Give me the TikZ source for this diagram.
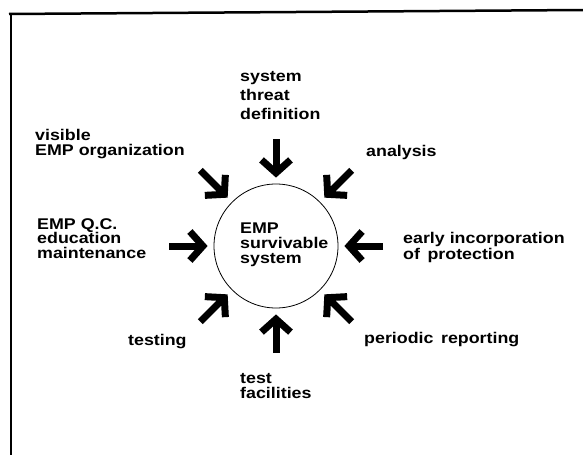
\documentclass[tikz,border=0pt]{standalone}
\usepackage{fontspec}
\newfontfamily\lblfont{Liberation Sans}[FakeStretch=1.15]
\usetikzlibrary{arrows.meta,calc}
\begin{document}
\begin{tikzpicture}[x=1pt,y=-1pt,
  lbl/.style={anchor=base west, inner sep=0pt, font=\lblfont\bfseries\fontsize{15.5}{15.5}\selectfont},
  bigarrow/.style={line width=7pt, -{Straight Barb[length=13pt,width=29pt]}, shorten >=6pt},
  framestroke/.style={line width=2.5pt}]
\useasboundingbox (0,0) rectangle (583,455);
% frame
\draw[framestroke] (9,14) -- (583,10);
\draw[framestroke] (11,13) -- (11,455);
% centre circle
\node[circle, draw, line width=0.8pt, minimum size=124pt, inner sep=0pt] (c) at (276,246) {};
\node[lbl] (in1) at (240,233) {EMP};
\node[lbl] (in2) at (240,248) {survivable};
\node[lbl] (in3) at (240,263) {system};
% arrow tails
\coordinate (tN)  at ($(c)+(270:107)$);
\coordinate (tNE) at ($(c)+(315:107)$);
\coordinate (tE)  at ($(c)+(0:107)$);
\coordinate (tSE) at ($(c)+(45:107)$);
\coordinate (tS)  at ($(c)+(90:107)$);
\coordinate (tSW) at ($(c)+(135:107)$);
\coordinate (tW)  at ($(c)+(180:107)$);
\coordinate (tNW) at ($(c)+(225:107)$);
\foreach \t in {tN,tNE,tE,tSE,tS,tSW,tW,tNW}
  \draw[bigarrow] (\t) -- (c);
% labels
\node[lbl] (sys1) at (240,81) {system};
\node[lbl] (sys2) at (240,100) {threat};
\node[lbl] (sys3) at (240,119) {definition};
\node[lbl] (vis1) at (35,140) {visible};
\node[lbl] (vis2) at (35,155) {EMP organization};
\node[lbl] (ana) at (366,156) {analysis};
\node[lbl] (qc1) at (37,229) {EMP Q.C.};
\node[lbl] (qc2) at (37,243.5) {education};
\node[lbl] (qc3) at (37,258) {maintenance};
\node[lbl] (ear1) at (403,243) {early incorporation};
\node[lbl] (ear2) at (403,259) {of\, protection};
\node[lbl] (tst) at (128,345) {testing};
\node[lbl] (fac1) at (240,383) {test};
\node[lbl] (fac2) at (240,398) {facilities};
\node[lbl] (per) at (364,343) {periodic\, reporting};
\end{tikzpicture}
\end{document}
